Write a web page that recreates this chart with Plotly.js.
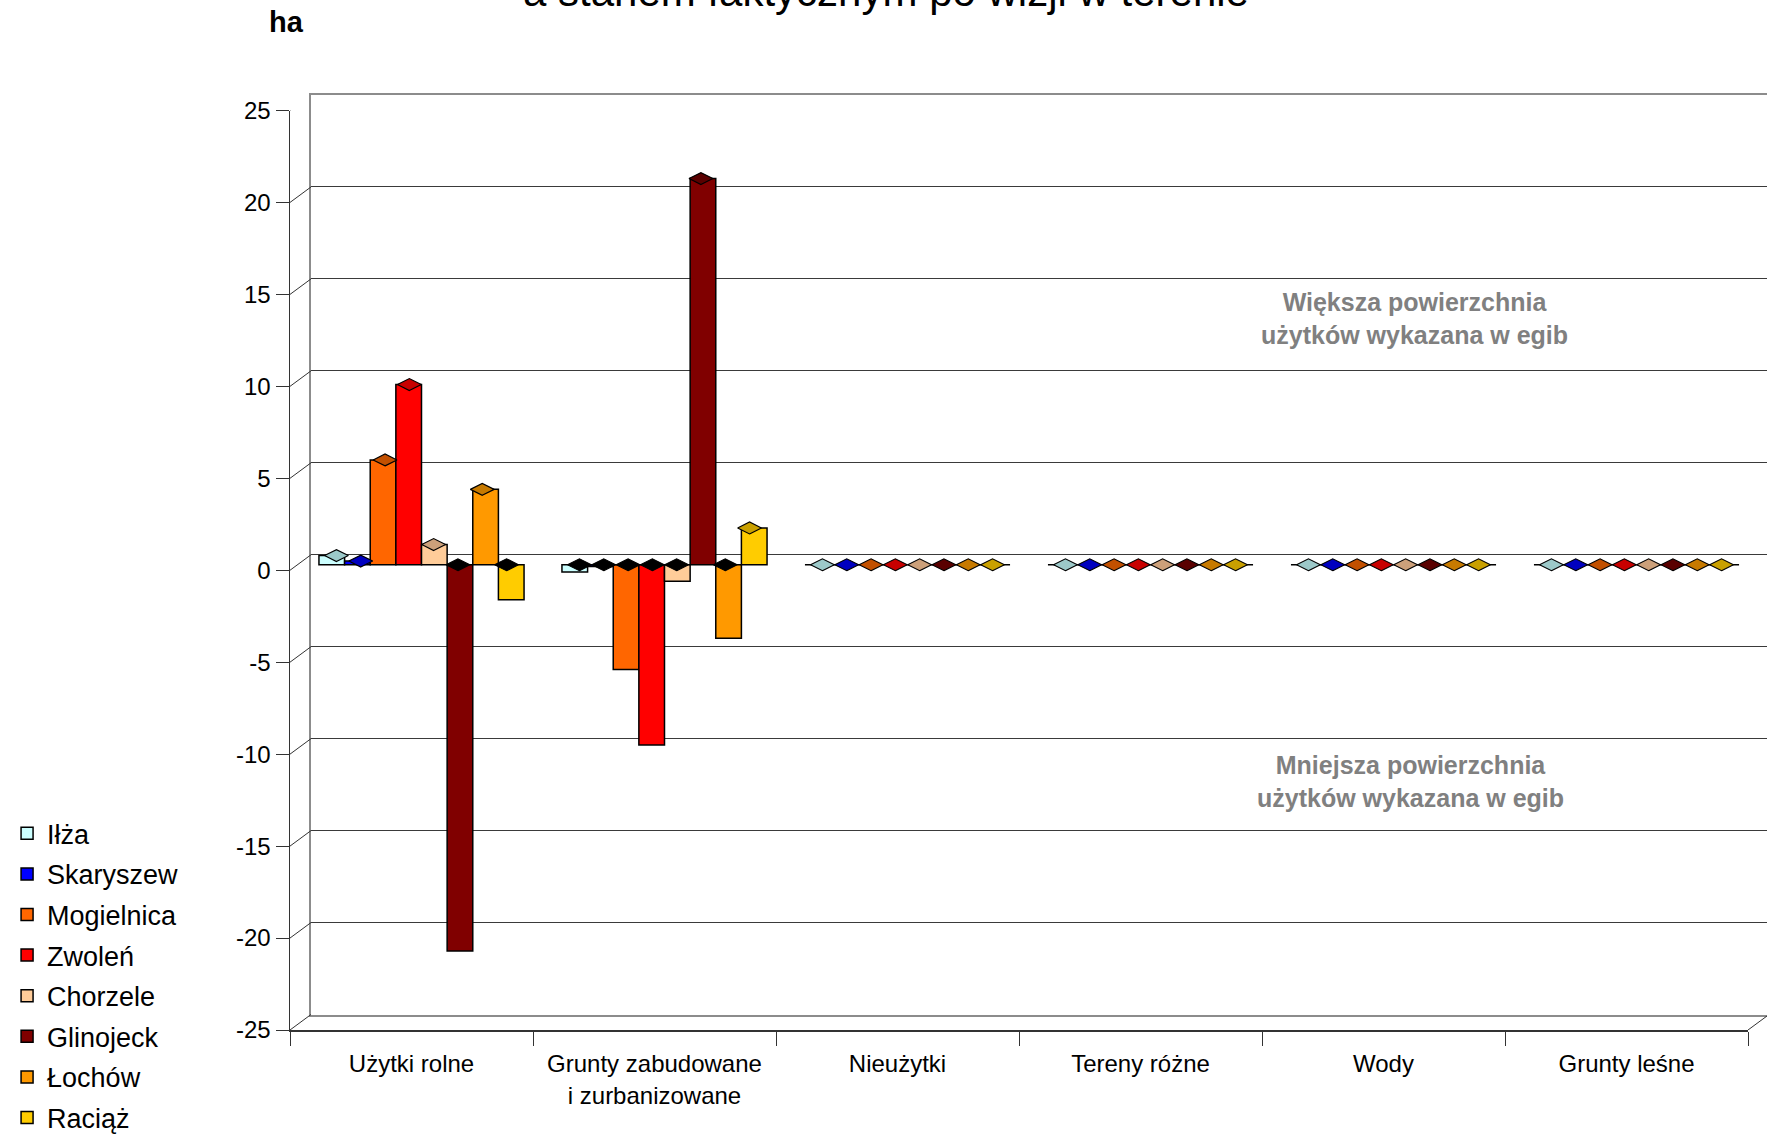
<!DOCTYPE html>
<html>
<head>
<meta charset="utf-8">
<script src="https://cdn.plot.ly/plotly-3.0.1.min.js"></script>
<style>
html,body{margin:0;padding:0;background:#ffffff;}
#chart{width:1767px;height:1135px;}
</style>
</head>
<body>
<div id="chart"></div>
<script>
// ---------- DATA ----------
const categories = ['Użytki rolne', 'Grunty zabudowane i zurbanizowane', 'Nieużytki', 'Tereny różne', 'Wody', 'Grunty leśne'];
const categoryTickLabels = ['Użytki rolne', 'Grunty zabudowane<br>i zurbanizowane', 'Nieużytki', 'Tereny różne', 'Wody', 'Grunty leśne'];
const seriesNames = ['Iłża', 'Skaryszew', 'Mogielnica', 'Zwoleń', 'Chorzele', 'Glinojeck', 'Łochów', 'Raciąż'];
const ilza       = [0.5, -0.4, 0, 0, 0, 0];
const skaryszew  = [0.2, -0.1, 0, 0, 0, 0];
const mogielnica = [5.7, -5.7, 0, 0, 0, 0];
const zwolen     = [9.8, -9.8, 0, 0, 0, 0];
const chorzele   = [1.1, -0.9, 0, 0, 0, 0];
const glinojeck  = [-21.0, 21.0, 0, 0, 0, 0];
const lochow     = [4.1, -4.0, 0, 0, 0, 0];
const raciaz     = [-1.9, 2.0, 0, 0, 0, 0];
const yTicks = [-25, -20, -15, -10, -5, 0, 5, 10, 15, 20, 25];
const yTickLabels = ['-25', '-20', '-15', '-10', '-5', '0', '5', '10', '15', '20', '25'];
const titleText = 'a stanem faktycznym po wizji w terenie';
const unitText = 'ha';
const noteUpper = 'Większa powierzchnia<br>użytków wykazana w egib';
const noteLower = 'Mniejsza powierzchnia<br>użytków wykazana w egib';

// ---------- STYLE ----------
const seriesValues = [ilza, skaryszew, mogielnica, zwolen, chorzele, glinojeck, lochow, raciaz];
const colors    = ['#CCFFFF', '#0000FF', '#FF6600', '#FF0000', '#FFCC99', '#800000', '#FF9900', '#FFCC00'];
const capColors = ['#9CC9C9', '#0000C0', '#C25000', '#C80000', '#CCA07A', '#5A0000', '#C77A00', '#C9A000'];
const FONT = 'Liberation Sans, Arial, Helvetica, sans-serif';

const W = 1767, H = 1135, L = 290, R = 0, T = 95, B = 105;
const PW = W - L - R, PH = H - T - B;
const frontW = 1458;            // px width of front plane
const frontH = 919.5;           // px height of value range
const backDX = 21, backDY = 15.5;
const barDX = 10, barDY = 5.5;

const frontX = [0, frontW / PW];
const frontY = [0, frontH / PH];
const backX = [backDX / PW, 1];
const backY = [backDY / PH, (frontH + backDY) / PH];
const barX = [barDX / PW, (frontW + barDX) / PW];
const barY = [barDY / PH, (frontH + barDY) / PH];
const zeroFrac = (frontH / 2) / PH;

const boundaries = categories.map((c, i) => i - 0.5).concat([categories.length - 0.5]);
const catIdx = categories.map((c, i) => i);

// ---------- TRACES ----------
const traces = [];
// empty trace that only registers the back-wall subplot
traces.push({type: 'scatter', mode: 'markers', x: [], y: [], xaxis: 'x', yaxis: 'y',
             showlegend: false, hoverinfo: 'skip'});
seriesValues.forEach((vals, i) => {
  traces.push({
    type: 'bar', name: seriesNames[i], x: categories, y: vals,
    xaxis: 'x4', yaxis: 'y4', offsetgroup: 'g' + i, legendgroup: 'g' + i,
    marker: {color: colors[i], line: {color: '#000000', width: 1.5}},
    hoverinfo: 'skip'
  });
});
seriesValues.forEach((vals, i) => {
  traces.push({
    type: 'scatter', mode: 'markers', showlegend: false, orientation: 'v',
    x: categories, y: vals.map(v => v > 0 ? v : 0),
    xaxis: 'x4', yaxis: 'y4', offsetgroup: 'g' + i, legendgroup: 'g' + i, cliponaxis: false,
    marker: {symbol: 'diamond-wide', size: 17,
             color: vals.map(v => v < 0 ? '#000000' : capColors[i]),
             line: {color: '#000000', width: 1.2}},
    hoverinfo: 'skip'
  });
});

// ---------- DECORATION (3D frame connectors) ----------
const shapes = [];
yTicks.forEach(v => {
  shapes.push({type: 'line', xref: 'paper', yref: 'y3', ysizemode: 'pixel', yanchor: v,
    x0: 0, x1: backDX / PW, y0: 0, y1: backDY, line: {color: '#333333', width: 1}});
});
shapes.push({type: 'line', xref: 'paper', yref: 'y3', ysizemode: 'pixel', yanchor: yTicks[0],
  x0: frontX[1], x1: 1, y0: 0, y1: backDY * (W - L - frontW) / backDX, line: {color: '#333333', width: 1}});

const layout = {
  width: W, height: H,
  margin: {l: L, r: R, t: T, b: B, pad: 0},
  paper_bgcolor: '#ffffff', plot_bgcolor: 'rgba(0,0,0,0)',
  font: {family: FONT, color: '#000000', size: 24},
  barmode: 'group', bargap: 0.156, bargroupgap: 0,
  scattermode: 'group',
  showlegend: true,
  legend: {xref: 'container', yref: 'container', x: 0.004, y: 0.287, xanchor: 'left', yanchor: 'top',
           font: {size: 27, family: FONT, color: '#000000'}, bgcolor: 'rgba(0,0,0,0)', borderwidth: 0,
           traceorder: 'grouped', tracegroupgap: 2.5},
  // back wall
  xaxis: {domain: backX, anchor: 'y', range: [-0.5, 5.5], showticklabels: false, ticks: '',
          showline: true, mirror: true, linecolor: '#8c8c8c', linewidth: 2, showgrid: false, zeroline: false},
  yaxis: {domain: backY, anchor: 'x', range: [-25, 25], tickmode: 'array', tickvals: yTicks,
          showticklabels: false, ticks: '', showgrid: true, gridcolor: '#3a3a3a', gridwidth: 1,
          showline: true, linecolor: '#8c8c8c', linewidth: 2, zeroline: false},
  // zero line with category ticks
  xaxis2: {domain: frontX, anchor: 'y2', range: [-0.5, 5.5], tickmode: 'array', tickvals: boundaries,
           showticklabels: false, ticks: 'outside', ticklen: 13, tickcolor: '#333333', tickwidth: 1,
           showline: true, linecolor: '#333333', linewidth: 1.5, showgrid: false, zeroline: false},
  yaxis2: {domain: [zeroFrac, zeroFrac + 0.02], anchor: 'x2', visible: false, range: [0, 1]},
  // front plane
  xaxis3: {domain: frontX, anchor: 'y3', range: [-0.5, 5.5], tickmode: 'array', tickvals: catIdx,
           ticktext: categoryTickLabels, ticks: 'outside', ticklen: 12, tickcolor: 'rgba(0,0,0,0)',
           minor: {tickmode: 'array', tickvals: boundaries, ticks: 'outside', ticklen: 14,
                   tickcolor: '#333333', tickwidth: 1},
           tickfont: {size: 24, family: FONT, color: '#000000'},
           showline: true, linecolor: '#333333', linewidth: 1.5, showgrid: false, zeroline: false},
  yaxis3: {domain: frontY, anchor: 'x3', range: [-25, 25], tickmode: 'array', tickvals: yTicks,
           ticktext: yTickLabels,
           ticks: 'outside', ticklen: 13, tickcolor: '#333333', tickwidth: 1,
           tickfont: {size: 24, family: FONT, color: '#000000'},
           showline: true, linecolor: '#333333', linewidth: 1.5, showgrid: false, zeroline: false},
  // bars (mid depth)
  xaxis4: {domain: barX, anchor: 'y4', type: 'category', range: [-0.5, 5.5], visible: false},
  yaxis4: {domain: barY, anchor: 'x4', range: [-25, 25], visible: false},
  shapes: shapes,
  annotations: [
    {text: titleText, xref: 'paper', yref: 'paper', x: (886 - L) / PW, y: (H - B - 17) / PH,
     xanchor: 'center', yanchor: 'bottom', showarrow: false,
     font: {size: 42, family: FONT, color: '#000000'}},
    {text: '<b>' + unitText + '</b>', xref: 'paper', yref: 'paper', x: (267 - L) / PW, y: (H - B - 40) / PH,
     xanchor: 'left', yanchor: 'bottom', showarrow: false,
     font: {size: 29, family: FONT, color: '#000000'}},
    {text: '<b>' + noteUpper + '</b>', xref: 'paper', yref: 'paper', x: (1414 - L) / PW, y: (H - B - 318) / PH,
     xanchor: 'center', yanchor: 'middle', showarrow: false,
     font: {size: 25, family: FONT, color: '#808080'}},
    {text: '<b>' + noteLower + '</b>', xref: 'paper', yref: 'paper', x: (1410 - L) / PW, y: (H - B - 781) / PH,
     xanchor: 'center', yanchor: 'middle', showarrow: false,
     font: {size: 25, family: FONT, color: '#808080'}}
  ]
};

Plotly.newPlot('chart', traces, layout, {displayModeBar: false, staticPlot: true});
</script>
</body>
</html>
